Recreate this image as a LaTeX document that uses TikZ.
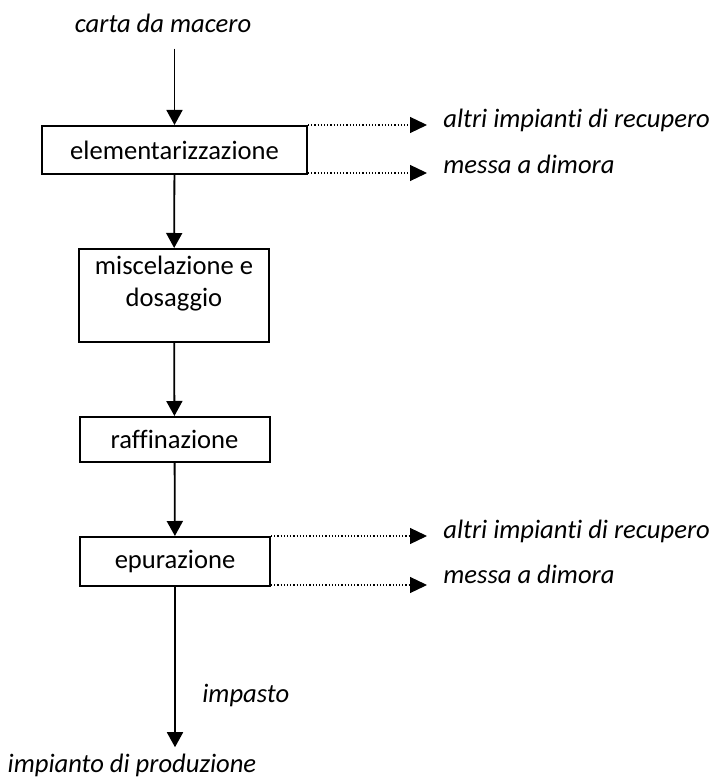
\documentclass[tikz,border=0pt]{standalone}
\usepackage{fontspec}
\setmainfont{Carlito}[Ligatures={NoCommon,NoRare}]
\usetikzlibrary{arrows.meta}
\begin{document}
\begin{tikzpicture}[x=.5pt,y=-.5pt,font=\fontsize{13.3}{16}\selectfont,
	stage/.style={draw,line width=1pt,inner sep=0pt,align=center},
	note/.style={inner sep=0pt,font=\fontsize{13.3}{16}\selectfont\itshape},
	flow/.style={-{Triangle[length=7.5pt,width=8pt]},line width=.9pt},
	side/.style={-{Triangle[length=8.5pt,width=8pt]},densely dotted,line width=.6pt}]
	\useasboundingbox (0,0) rectangle (711,779);
	% boxes
	\node[stage,minimum width=132.5pt,minimum height=24pt] (elem) at (174.5,150) {elementarizzazione};
	\node[stage,minimum width=95pt,minimum height=46.5pt] (misc) at (174,295.5) {};
	\node[align=center,inner sep=0pt] (misctxt) at (174,284) {miscelazione e\\dosaggio};
	\node[stage,minimum width=95pt,minimum height=22.5pt] (raff) at (174.5,439.5) {raffinazione};
	\node[stage,minimum width=95pt,minimum height=24.5pt] (epur) at (175,561.5) {epurazione};
	% texts
	\node[note] (carta) at (163,23) {carta da macero};
	\node[note,anchor=west] (alt1) at (443,120) {altri impianti di recupero};
	\node[note,anchor=west] (mes1) at (443,164) {messa a dimora};
	\node[note,anchor=west] (alt2) at (443,531) {altri impianti di recupero};
	\node[note,anchor=west] (mes2) at (443,574) {messa a dimora};
	\node[note,anchor=west] (imp) at (202,695) {impasto};
	\node[note] (prod) at (132,765) {impianto di produzione};
	% main line
	\draw[flow,shorten <=8pt] (elem.north |- carta.south) -- (elem.north);
	\draw[flow] (elem) -- (misc);
	\draw[flow] (misc) -- (raff);
	\draw[flow] (raff) -- (epur);
	\draw[flow,shorten >=3pt] (epur) -- (epur |- prod.north);
	% side outputs
	\draw[side,shorten >=8pt] (elem.north east) -- (elem.north east -| alt1.west);
	\draw[side,shorten >=8pt] ([yshift=1pt]elem.south east) -- ([yshift=1pt]elem.south east -| mes1.west);
	\draw[side,shorten >=8pt] (epur.north east) -- (epur.north east -| alt2.west);
	\draw[side,shorten >=8pt] ([yshift=1pt]epur.south east) -- ([yshift=1pt]epur.south east -| mes2.west);
\end{tikzpicture}
\end{document}
